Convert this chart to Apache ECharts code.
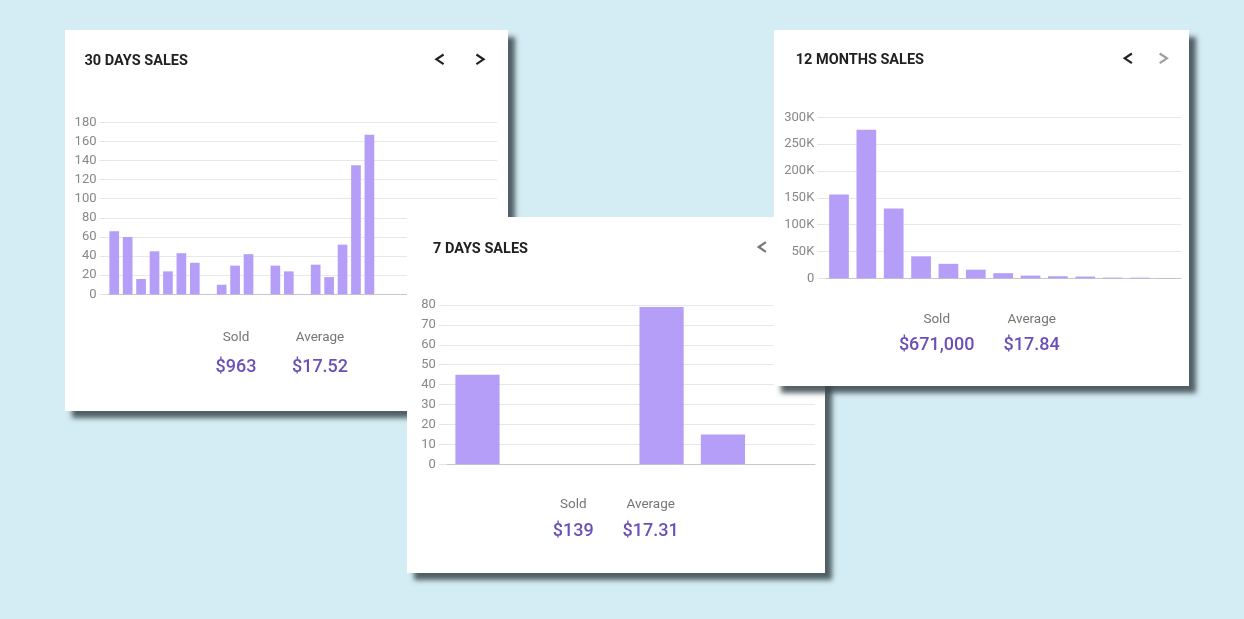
<!DOCTYPE html>
<html>
<head>
<meta charset="utf-8">
<script src="https://cdn.jsdelivr.net/npm/echarts@6/dist/echarts.min.js"></script>
<style>
body { margin: 0; background: #d4ecf3; width: 1244px; height: 619px; overflow: hidden; font-family: Roboto, sans-serif; }
.card { position: absolute; background: #fff; box-shadow: 7px 7px 5px rgba(58, 70, 76, 0.85); }
</style>
</head>
<body>
<div id="days30" class="card" style="left:65px;top:30px;width:443px;height:381px;z-index:1"></div>
<div id="days7" class="card" style="left:407px;top:217px;width:418px;height:356px;z-index:2"></div>
<div id="months12" class="card" style="left:774px;top:30px;width:415px;height:356px;z-index:3"></div>
<script>
// data (days hidden behind the 7 days card are left at 0)
var days30 = ['1','2','3','4','5','6','7','8','9','10','11','12','13','14','15','16','17','18','19','20','21','22','23','24','25','26','27','28','29'];
var sales30 = [66, 60, 16, 45, 24, 43, 33, 0, 10, 30, 42, 0, 30, 24, 0, 31, 18, 52, 135, 167, 0, 0, 0, 0, 0, 0, 0, 0, 0];
var days7 = ['1','2','3','4','5','6'];
var sales7 = [45, 0, 0, 79, 15, 0];
var months12 = ['Jan','Feb','Mar','Apr','May','Jun','Jul','Aug','Sep','Oct','Nov','Dec','Jan'];
var sales12 = [156000, 277000, 130000, 41000, 27000, 16000, 9500, 5000, 3800, 3200, 1300, 1200, 500];
var stats30 = ['$963', '$17.52'];
var stats7 = ['$139', '$17.31'];
var stats12 = ['$671,000', '$17.84'];

var barColor = '#b49ef7';

// chevron icons in the card header
function chevron(x, y, dir, color) {
    var d = 3.6 * dir;
    return {
        type: 'polyline',
        shape: { points: [[x + d, y - 4.8], [x - d, y], [x + d, y + 4.8]] },
        style: { stroke: color, lineWidth: 2.2, fill: null }
    };
}

// Sold / Average block
function statBlock(xs, yLabel, yValue, values) {
    var names = ['Sold', 'Average'];
    var out = [];
    for (var i = 0; i < 2; i++) {
        out.push({
            type: 'text', x: xs[i], y: yLabel,
            style: { text: names[i], fill: '#757575', font: '13.5px Roboto', align: 'center', verticalAlign: 'middle' }
        });
        out.push({
            type: 'text', x: xs[i], y: yValue,
            style: { text: values[i], fill: '#6a50b8', font: '500 18px Roboto', align: 'center', verticalAlign: 'middle' }
        });
    }
    return out;
}

function makeOption(o) {
    return {
        animation: false,
        title: {
            text: o.title, left: o.titleX, top: o.titleY,
            textStyle: { fontFamily: 'Roboto', fontSize: 14.5, fontWeight: 'bold', color: '#212121' }
        },
        grid: { left: o.grid[0], top: o.grid[1], width: o.grid[2], height: o.grid[3] },
        xAxis: {
            type: 'category',
            data: o.cats,
            axisLabel: { show: false },
            axisTick: { show: false },
            axisLine: { lineStyle: { color: '#c8c8c8' } }
        },
        yAxis: {
            type: 'value',
            min: 0, max: o.max, interval: o.interval,
            axisLine: { show: false },
            axisTick: { show: true, length: 8, lineStyle: { color: '#e4e4e4' } },
            axisLabel: {
                color: '#888', fontSize: 13, fontFamily: 'Roboto', margin: 11,
                formatter: o.fmt
            },
            splitLine: { lineStyle: { color: '#e8e8e8' } }
        },
        series: [{
            type: 'bar',
            data: o.data,
            barCategoryGap: '28%',
            itemStyle: { color: barColor }
        }],
        graphic: o.graphic
    };
}

var chart30 = echarts.init(document.getElementById('days30'));
chart30.setOption(makeOption({
    title: '30 DAYS SALES', titleX: 14.5, titleY: 18.7,
    grid: [42.5, 92.3, 389.5, 172],
    cats: days30, data: sales30, max: 180, interval: 20,
    graphic: [chevron(375, 29.3, 1, '#222'), chevron(415, 29.3, -1, '#222')]
        .concat(statBlock([171, 255], 308, 337, stats30))
}));

var chart7 = echarts.init(document.getElementById('days7'));
chart7.setOption(makeOption({
    title: '7 DAYS SALES', titleX: 21, titleY: 19.4,
    grid: [39.8, 88, 368.2, 159.3],
    cats: days7, data: sales7, max: 80, interval: 10,
    graphic: [chevron(355.3, 30, 1, '#777')]
        .concat(statBlock([166.3, 243.7], 287.8, 314.5, stats7))
}));

var chart12 = echarts.init(document.getElementById('months12'));
chart12.setOption(makeOption({
    title: '12 MONTHS SALES', titleX: 16.7, titleY: 18,
    grid: [51.3, 87.3, 355.7, 161],
    cats: months12, data: sales12, max: 300000, interval: 50000,
    fmt: function (v) { return v === 0 ? '0' : (v / 1000) + 'K'; },
    graphic: [chevron(354.3, 28.3, 1, '#222'), chevron(389.3, 28.3, -1, '#9e9e9e')]
        .concat(statBlock([162.7, 257.7], 289.2, 315.8, stats12))
}));
</script>
</body>
</html>
